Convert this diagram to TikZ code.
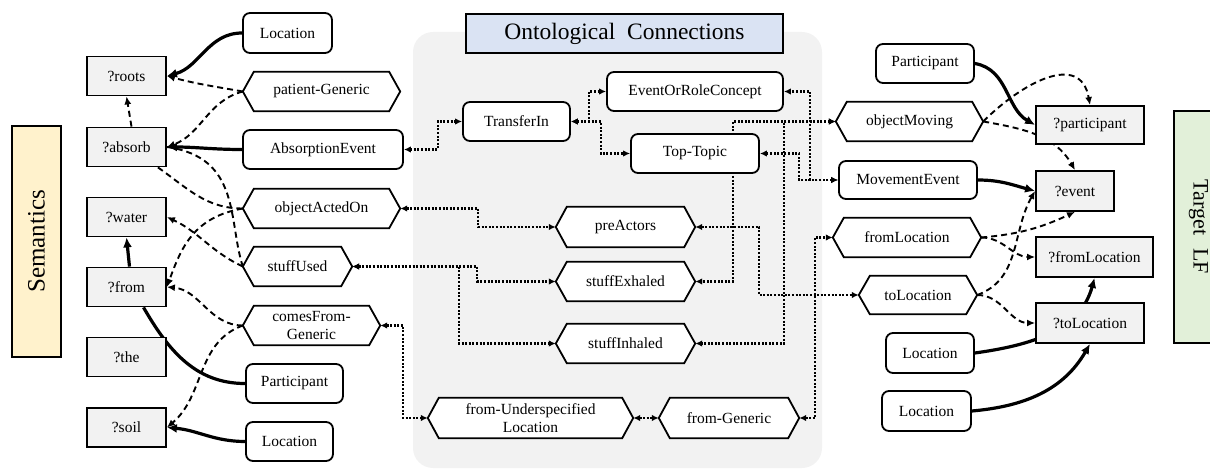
\documentclass[tikz,border=0pt]{standalone}
\usepackage{fontspec}
\setmainfont{Liberation Serif}
\usetikzlibrary{arrows.meta}
\definecolor{panelgray}{HTML}{F2F2F2}
\definecolor{varfill}{HTML}{F2F2F2}
\definecolor{semfill}{HTML}{FFF2CC}
\definecolor{lffill}{HTML}{E2F0D9}
\definecolor{titlefill}{HTML}{DAE3F3}
\pgfdeclarelayer{panel}
\pgfdeclarelayer{links}
\pgfdeclarelayer{shapes}
\pgfsetlayers{panel,links,shapes,main}

\begin{document}
\begin{tikzpicture}[x=1pt,y=1pt,
  lbl/.style={font=\fontsize{15.5pt}{18.5pt}\selectfont, align=center, inner sep=0pt},
  var/.style={lbl, draw, fill=varfill, line width=1.8pt, minimum height=39pt},
  concept/.style={lbl, draw, fill=white, rounded corners=7pt, line width=1.8pt, minimum height=39pt},
  role/.style={lbl, minimum height=39pt},
  solidlink/.style={line width=3.2pt, -{Latex[length=10pt,width=9pt]}},
  plainlink/.style={line width=3.2pt},
  dashlink/.style={line width=1.9pt, dash pattern=on 6pt off 4pt, -{Latex[length=8pt,width=7pt]}},
  dashplain/.style={line width=1.9pt, dash pattern=on 6pt off 4pt},
  dotlink/.style={line width=2.2pt, dash pattern=on 2pt off 1.6pt,
    {Latex[length=7pt,width=6.5pt]}-{Latex[length=7pt,width=6.5pt]}},
  hexline/.style={line width=1.8pt, fill=white, line join=miter},
  sidebox/.style={draw, line width=1.8pt, inner sep=0pt, minimum height=49pt},
]
\useasboundingbox (0,0) rectangle (1210,469);

% ---- side labels and title ----
\node[sidebox, fill=semfill, minimum width=231pt, rotate=90,
      font=\fontsize{25pt}{30pt}\selectfont] (sem) at (36.5,227.5) {Semantics};
\node[sidebox, fill=lffill, minimum width=232pt, rotate=-90,
      font=\fontsize{22pt}{26pt}\selectfont] (tlf) at (1198.5,242) {Target\hspace{0.6em}LF};
\node[draw, fill=titlefill, line width=1.8pt, inner sep=0pt, minimum width=317pt, minimum height=39pt,
      font=\fontsize{23.5pt}{28pt}\selectfont] (title) at (624.5,435.5) {Ontological\hspace{0.5em}Connections};

% ---- semantic variables ----
\node[var, minimum width=79pt] (roots)  at (126.5,393)  {?roots};
\node[var, minimum width=79pt] (absorb) at (126.5,322)  {?absorb};
\node[var, minimum width=79pt] (water)  at (126.5,252)  {?water};
\node[var, minimum width=79pt] (from)   at (126.5,182)  {?from};
\node[var, minimum width=79pt] (the)    at (126.5,112)  {?the};
\node[var, minimum width=79pt] (soil)   at (126.5,41.5) {?soil};

% ---- left concepts and roles ----
\node[concept, minimum width=89pt, minimum height=40pt] (locA) at (287.5,436) {Location};
\node[role, minimum width=157pt] (patG)   at (321.5,377.5) {patient-Generic};
\node[concept, minimum width=160pt] (absEv) at (323,319.5) {AbsorptionEvent};
\node[role, minimum width=157pt] (objAO)  at (321.5,260.5) {objectActedOn};
\node[role, minimum width=109pt] (stuffU) at (297.5,202.5) {stuffUsed};
\node[role, minimum width=137pt] (comesF) at (311.5,143.5) {comesFrom-\\Generic};
\node[concept, minimum width=97pt] (partL) at (294.5,85.5) {Participant};
\node[concept, minimum width=87pt] (locB)  at (289.5,27.5) {Location};

% ---- ontology ----
\node[concept, minimum width=107pt] (transIn)  at (516.5,347.5) {TransferIn};
\node[concept, minimum width=176pt] (eventOR)  at (695,377.5)   {EventOrRoleConcept};
\node[concept, minimum width=128pt] (topTopic) at (695,315.5)   {Top-Topic};
\node[role, minimum width=139pt, minimum height=40pt] (preAct) at (625.5,242) {preActors};
\node[role, minimum width=139pt] (stuffEx) at (625.5,187.5) {stuffExhaled};
\node[role, minimum width=139pt] (stuffIn) at (625.5,125.5) {stuffInhaled};
\node[role, minimum width=205pt, minimum height=40pt] (fromU) at (530.5,51) {from-Underspecified\\Location};
\node[role, minimum width=140pt, minimum height=40pt] (fromG) at (729,51) {from-Generic};

% ---- target logical form ----
\node[concept, minimum width=98pt] (partR) at (925,405.5) {Participant};
\node[role, minimum width=147pt] (objMov) at (909.5,347.5) {objectMoving};
\node[var, minimum width=108pt, minimum height=38pt] (qpart) at (1090,344) {?participant};
\node[concept, minimum width=138pt, minimum height=38pt] (moveEv) at (908,289) {MovementEvent};
\node[var, minimum width=78pt, minimum height=40pt] (qevent) at (1075,278) {?event};
\node[role, minimum width=148pt] (fromLoc) at (907,231.5) {fromLocation};
\node[var, minimum width=117pt, minimum height=40pt] (qfromLoc) at (1094.5,212) {?fromLocation};
\node[role, minimum width=118pt, minimum height=38pt] (toLoc) at (918,174) {toLocation};
\node[var, minimum width=108pt, minimum height=40pt] (qtoLoc) at (1090,146) {?toLocation};
\node[concept, minimum width=88pt, minimum height=40pt] (locC) at (930,116) {Location};
\node[concept, minimum width=89pt, minimum height=40pt] (locD) at (926.5,58) {Location};

% ---- grey panel behind the ontology ----
\begin{pgfonlayer}{panel}
  \fill[panelgray, rounded corners=20pt] (413,1) rectangle (822,437);
\end{pgfonlayer}

% ---- hexagonal outlines of the role nodes ----
\begin{pgfonlayer}{shapes}
  \foreach \n in {patG,objAO,stuffU,comesF,preAct,stuffEx,stuffIn,fromU,fromG,objMov,fromLoc,toLoc}
    \draw[hexline] ([xshift=11pt]\n.north west) -- ([xshift=-11pt]\n.north east) -- (\n.east)
      -- ([xshift=-11pt]\n.south east) -- ([xshift=11pt]\n.south west) -- (\n.west) -- cycle;
\end{pgfonlayer}

\begin{pgfonlayer}{links}
  % semantics side
  \draw[solidlink] (locA.west) to[out=180,in=15] (roots.east);
  \draw[dashlink] (patG.west) to[out=170,in=-15] (roots.east);
  \draw[dashlink] (patG.west) to[out=195,in=20] (absorb.east);
  \draw[solidlink] (absEv.west) to[out=180,in=0] (absorb.east);
  \draw[dashlink] ([xshift=5pt]absorb.north) -- (roots.south);
  \draw[dashplain] ([xshift=-9pt]absorb.south east) to[out=-35,in=180] (objAO.west);
  \draw[dashlink] (objAO.west) to[out=190,in=70,out distance=50pt,in distance=42pt] (from.east);
  \draw[dashplain] (absorb.east) to[out=-8,in=108,out distance=75pt,in distance=48pt] (stuffU.west);
  \draw[dashlink] (stuffU.west) to[out=155,in=-25] (water.east);
  \draw[dashlink] (comesF.west) to[out=180,in=-5] (from.east);
  \draw[dashlink] (comesF.west) to[out=200,in=40] (soil.east);
  \draw[solidlink] ([xshift=3pt]from.north) -- (water.south);
  \draw[plainlink] (partL.west) to[out=180,in=-60] ([xshift=17pt]from.south);
  \draw[solidlink] (locB.west) to[out=180,in=-5] (soil.east);

  % ontology links
  \draw[dotlink] (absEv.east) -- ++(34,0) |- (transIn.west);
  \draw[dotlink] (transIn.east) -- ++(18,0) |- (eventOR.west);
  \draw[dotlink] (transIn.east) -- ++(30,0) |- (topTopic.west);
  \draw[dotlink] (objAO.east) -- ++(78,0) |- (preAct.west);
  \draw[dotlink] (stuffU.east) -- ++(125,0) |- (stuffEx.west);
  \draw[dotlink] (stuffU.east) -- ++(107,0) |- (stuffIn.west);
  \draw[dotlink] (comesF.east) -- ++(23,0) |- (fromU.west);
  \draw[dotlink] (fromU.east) -- (fromG.west);
  \draw[dotlink] (fromG.east) -- ++(16,0) |- (fromLoc.west);
  \draw[dotlink] (moveEv.west) -- ++(-28,0) |- (eventOR.east);
  \draw[dotlink] (moveEv.west) -- ++(-39,0) |- (topTopic.east);
  \draw[dotlink] (objMov.west) -- ++(-103,0) |- (stuffEx.east);
  \draw[dotlink] (objMov.west) -- ++(-52,0) |- (stuffIn.east);
  \draw[dotlink] (preAct.east) -- ++(64,0) |- (toLoc.west);

  % target side
  \draw[solidlink] (partR.east) to[out=-10,in=150] (qpart.west);
  \draw[dashlink] (objMov.east) to[out=45,in=100,looseness=1.3] (qpart.north);
  \draw[dashlink] (objMov.east) to[out=-10,in=120] (qevent.north);
  \draw[solidlink] (moveEv.east) to[out=0,in=165] (qevent.west);
  \draw[dashlink] (fromLoc.east) to[out=5,in=-155] (qevent.south);
  \draw[dashlink] (fromLoc.east) to[out=0,in=180] (qfromLoc.west);
  \draw[dashlink] (toLoc.east) to[out=20,in=-120] (qevent.west);
  \draw[dashlink] (toLoc.east) to[out=0,in=180] (qtoLoc.west);
  \draw[solidlink] (locC.east) to[out=8,in=-105] (qfromLoc.south);
  \draw[solidlink] (locD.east) to[out=5,in=-120] (qtoLoc.south);
\end{pgfonlayer}
\end{tikzpicture}
\end{document}
